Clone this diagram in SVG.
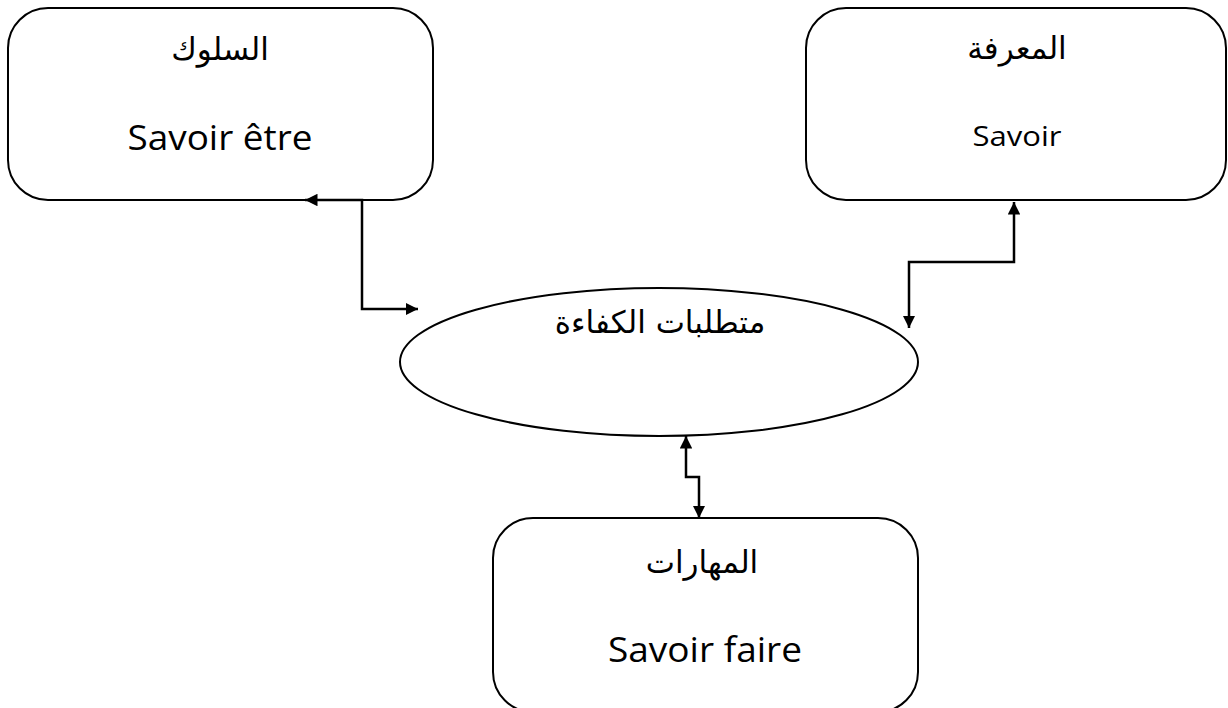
<svg xmlns="http://www.w3.org/2000/svg" width="1228" height="708" viewBox="0 0 1228 708">
  <style>
    .box { fill: #ffffff; stroke: #000000; stroke-width: 2; }
    .link { fill: none; stroke: #000000; stroke-width: 2.5; marker-start: url(#arrow); marker-end: url(#arrow); }
    .ar { font-family: "DejaVu Sans", "Noto Sans", sans-serif; fill: #000; text-anchor: middle; font-size: 31px; }
    .fr { font-family: "Open Sans", "Noto Sans", sans-serif; fill: #000; text-anchor: middle; }
  </style>
  <defs>
    <marker id="arrow" viewBox="0 0 10 10" refX="10" refY="5" markerWidth="5" markerHeight="5" orient="auto-start-reverse" markerUnits="strokeWidth">
      <path d="M0,0 L10,5 L0,10 z" fill="#000"/>
    </marker>
  </defs>
  <rect width="1228" height="708" fill="#ffffff"/>

  <g id="behaviour">
    <rect class="box" x="8" y="8" width="425" height="192" rx="40" ry="40"/>
    <text class="ar" x="220" y="60">السلوك</text>
    <text class="fr" x="220" y="150" font-size="34" textLength="185" lengthAdjust="spacingAndGlyphs">Savoir être</text>
  </g>

  <g id="knowledge">
    <rect class="box" x="806" y="8" width="420" height="192" rx="40" ry="40"/>
    <text class="ar" x="1017" y="59">المعرفة</text>
    <text class="fr" x="1017" y="146" font-size="28" textLength="89" lengthAdjust="spacingAndGlyphs">Savoir</text>
  </g>

  <g id="requirements">
    <ellipse class="box" cx="659" cy="362" rx="259" ry="74"/>
    <text class="ar" x="660" y="333">متطلبات الكفاءة</text>
  </g>

  <g id="skills">
    <rect class="box" x="493" y="518" width="425" height="194" rx="40" ry="40"/>
    <text class="ar" x="702" y="573">المهارات</text>
    <text class="fr" x="705" y="662" font-size="35" textLength="194" lengthAdjust="spacingAndGlyphs">Savoir faire</text>
  </g>

  <g id="connectors">
    <path class="link" d="M418 309 H362 V200 H305"/>
    <path class="link" d="M909 328 V262 H1014 V202"/>
    <path class="link" d="M699 518 V477 H686 V436"/>
  </g>
</svg>
